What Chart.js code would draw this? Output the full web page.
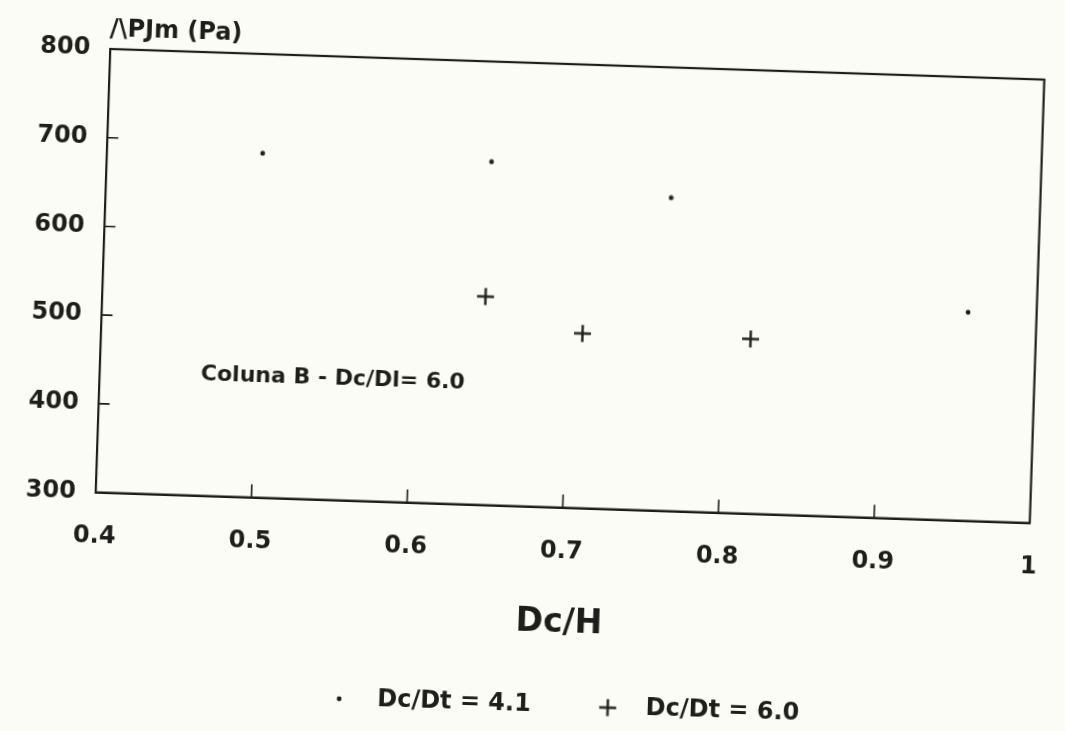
<!DOCTYPE html>
<html>
<head>
<meta charset="utf-8">
<script src="https://cdn.jsdelivr.net/npm/chart.js@4.4.1/dist/chart.umd.min.js"></script>
<style>
  html, body { margin: 0; padding: 0; background: #fcfcf6; overflow: hidden; }
  #wrap { width: 1065px; height: 731px; transform: rotate(1.88deg); transform-origin: 50% 50%; }
</style>
</head>
<body>
<div id="wrap"><canvas id="chart"></canvas></div>
<script>
// values
const xTicks = [0.4, 0.5, 0.6, 0.7, 0.8, 0.9, 1];
const xTickLabels = ['0.4', '0.5', '0.6', '0.7', '0.8', '0.9', '1'];
const yTicks = [300, 400, 500, 600, 700, 800];

const dc41X = [0.5, 0.647, 0.763, 0.956];
const dc41Y = [688, 687, 653, 535];
const dc60X = [0.646, 0.709, 0.817];
const dc60Y = [535, 497, 497];

const seriesLabels = ['Dc/Dt = 4.1', 'Dc/Dt = 6.0'];
const yTitle = '/\\PJm (Pa)';
const xTitle = 'Dc/H';
const note = 'Coluna B - Dc/Dl= 6.0';

const ink = '#1d1d1b';
const face = 'DejaVu Sans';

// small point images so the dot and the plus keep their own sizes in the legend too
function dotImage() {
    const c = document.createElement('canvas');
    c.width = 6; c.height = 6;
    const g = c.getContext('2d');
    g.fillStyle = ink;
    g.beginPath();
    g.arc(3, 3, 2.4, 0, Math.PI * 2);
    g.fill();
    return c;
}

function plusImage() {
    const c = document.createElement('canvas');
    c.width = 19; c.height = 19;
    const g = c.getContext('2d');
    g.strokeStyle = ink;
    g.lineWidth = 2.4;
    g.beginPath();
    g.moveTo(1, 9.5); g.lineTo(18, 9.5);
    g.moveTo(9.5, 1); g.lineTo(9.5, 18);
    g.stroke();
    return c;
}

const toPoints = (xs, ys) => xs.map((v, i) => ({x: v, y: ys[i]}));

// frame, inward tick marks, axis caption and note
const framePlugin = {
    id: 'frame',
    afterDraw(chart) {
        const {ctx, chartArea: a, scales: {x, y}} = chart;
        ctx.save();
        ctx.strokeStyle = ink;
        ctx.lineWidth = 2.2;
        ctx.strokeRect(a.left, a.top, a.right - a.left, a.bottom - a.top);

        ctx.beginPath();
        xTicks.slice(1, -1).forEach(v => {
            const px = x.getPixelForValue(v);
            ctx.moveTo(px, a.bottom);
            ctx.lineTo(px, a.bottom - 13);
        });
        yTicks.slice(1, -1).forEach(v => {
            const py = y.getPixelForValue(v);
            ctx.moveTo(a.left, py);
            ctx.lineTo(a.left + 11, py);
        });
        ctx.lineWidth = 1.6;
        ctx.stroke();

        ctx.fillStyle = ink;
        ctx.textBaseline = 'middle';
        ctx.textAlign = 'left';
        ctx.font = 'bold 24px "' + face + '"';
        ctx.fillText(yTitle, a.left - 1, a.top - 19);

        ctx.font = 'bold 22px "' + face + '"';
        ctx.fillText(note, x.getPixelForValue(0.465), y.getPixelForValue(437));
        ctx.restore();
    }
};

const chart = document.querySelector('#chart').getContext('2d');

new Chart(chart, {
    type: 'scatter',
    data: {
        datasets: [
            {
                label: seriesLabels[0],
                data: toPoints(dc41X, dc41Y),
                pointStyle: dotImage(),
                backgroundColor: ink,
                borderColor: ink
            },
            {
                label: seriesLabels[1],
                data: toPoints(dc60X, dc60Y),
                pointStyle: plusImage(),
                backgroundColor: ink,
                borderColor: ink
            }
        ]
    },
    options: {
        responsive: true,
        maintainAspectRatio: false,
        animation: false,
        layout: {
            padding: {left: 18, right: 11, top: 63, bottom: 4}
        },
        plugins: {
            tooltip: {enabled: false},
            legend: {
                position: 'bottom',
                fullSize: false,
                labels: {
                    usePointStyle: true,
                    pointStyleWidth: 52,
                    padding: 51,
                    color: ink,
                    font: {family: face, size: 24, weight: 'bold'}
                }
            }
        },
        scales: {
            x: {
                type: 'linear',
                min: 0.4,
                max: 1,
                afterBuildTicks: scale => {
                    scale.ticks = xTicks.map(v => ({value: v}));
                },
                grid: {display: false},
                border: {display: true, color: ink, width: 2},
                ticks: {
                    padding: 22,
                    color: ink,
                    font: {family: face, size: 24, weight: 'bold'},
                    callback: (v, i) => xTickLabels[i]
                },
                title: {
                    display: true,
                    text: xTitle,
                    color: ink,
                    font: {family: face, size: 33, weight: 'bold'},
                    padding: {top: 15, bottom: 0}
                }
            },
            y: {
                type: 'linear',
                min: 300,
                max: 800,
                afterBuildTicks: scale => {
                    scale.ticks = yTicks.map(v => ({value: v}));
                },
                grid: {display: false},
                border: {display: true, color: ink, width: 2},
                ticks: {
                    padding: 12,
                    color: ink,
                    font: {family: face, size: 24, weight: 'bold'}
                }
            }
        }
    },
    plugins: [framePlugin]
});
</script>
</body>
</html>
